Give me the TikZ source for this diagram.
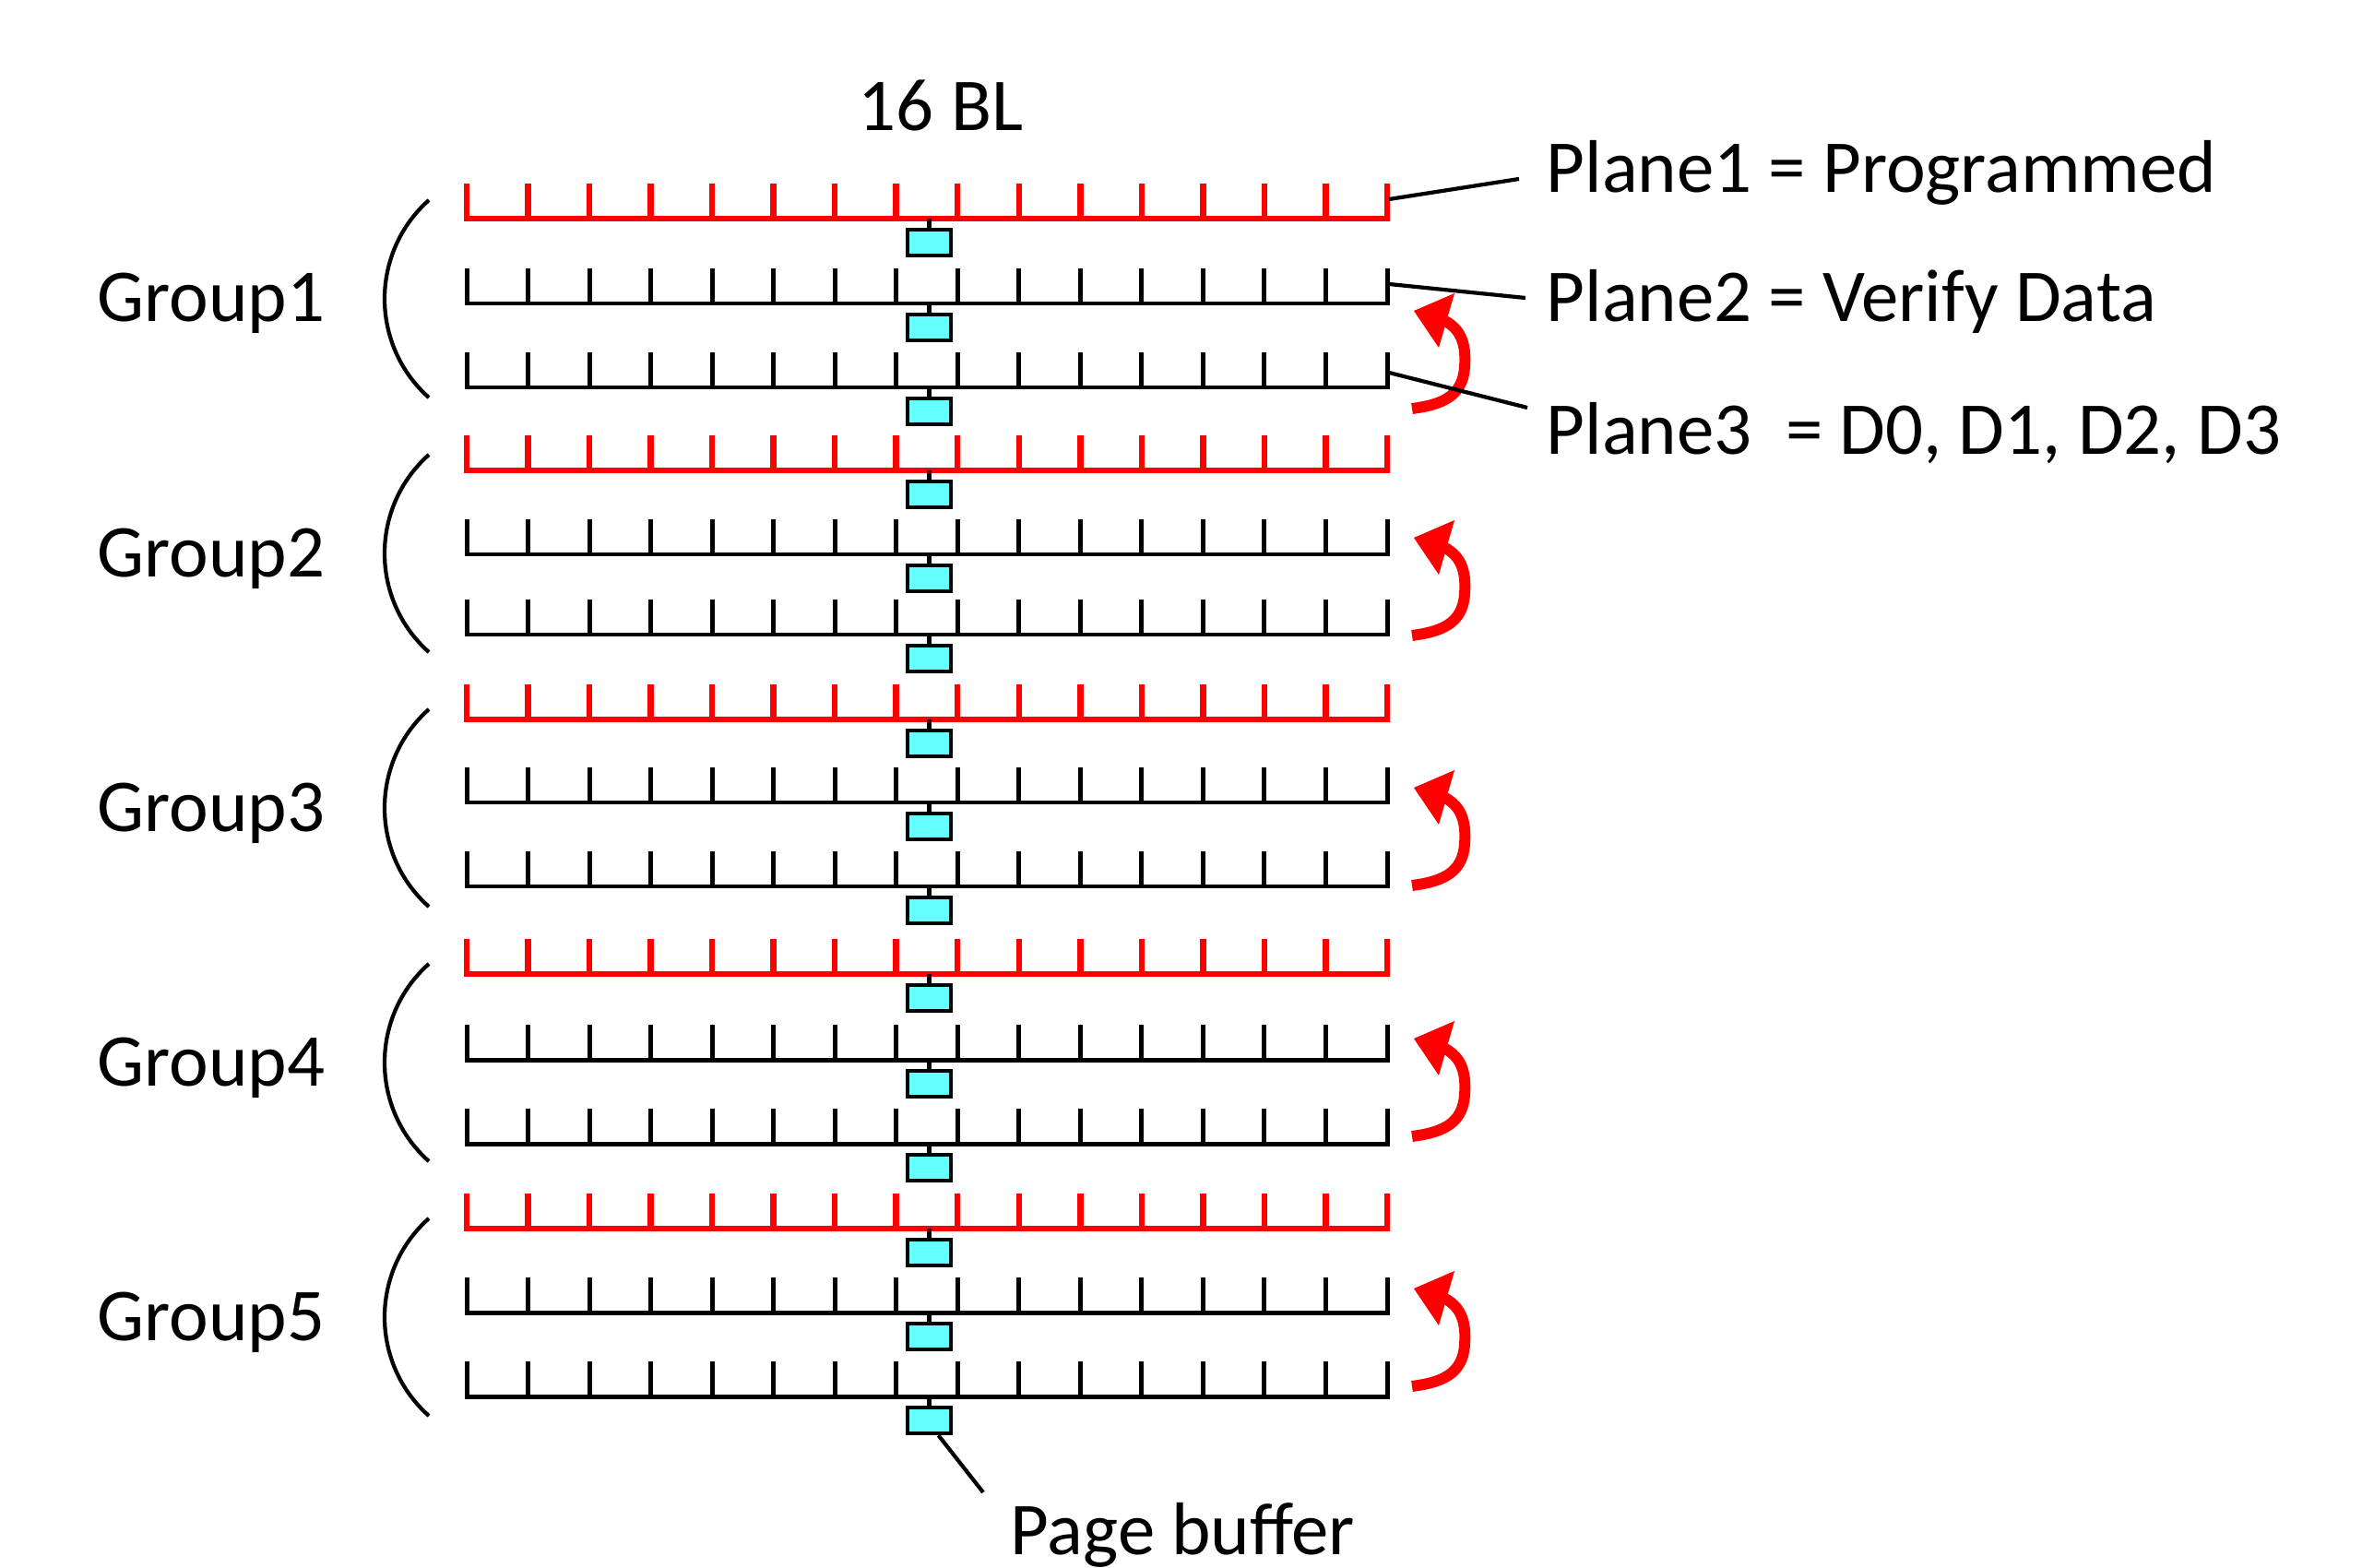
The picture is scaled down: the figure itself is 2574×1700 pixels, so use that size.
\documentclass[tikz,border=0pt]{standalone}
\usepackage{fontspec}
\setmainfont{Carlito}
\definecolor{bufcyan}{RGB}{102,255,255}
\begin{document}
\begin{tikzpicture}[x=0.01cm,y=-0.01cm,
  redplane/.style={draw=red,line width=1.85pt,line join=miter},
  blackplane/.style={draw=black,line width=1.42pt,line join=miter},
  pbuf/.style={draw=black,fill=bufcyan,line width=1.25pt,minimum width=0.47cm,minimum height=0.28cm,inner sep=0pt},
  stem/.style={line width=1.25pt},
  lbl/.style={font=\fontsize{23}{28}\selectfont,inner sep=0pt},
  leader/.style={line width=1.2pt},
  bracket/.style={line width=1.2pt},
  turn/.style={draw=red,line width=3.4pt},
]
\useasboundingbox (0,0) rectangle (2574,1700);

% planes with 16 bit lines and page buffers
\foreach \b/\s [count=\n] in {237/redplane,329/blackplane,420/blackplane,
                   510/redplane,601/blackplane,688/blackplane,
                   780/redplane,870/blackplane,961/blackplane,
                   1056/redplane,1149/blackplane,1240/blackplane,
                   1332/redplane,1423/blackplane,1514/blackplane}{
  \draw[\s] (506,\b-38) -- (506,\b) -- (1504,\b) -- (1504,\b-38);
  \foreach \i in {1,...,14}{
    \draw[\s] (506+66.53*\i,\b) -- (506+66.53*\i,\b-38);
  }
  \coordinate (s\n) at (1007.5,\b);
  \node[pbuf] (b\n) at (1007.5,\b+26) {};
  \draw[stem] (s\n) -- (b\n.north);
}

% group brackets and labels
\foreach \c/\g in {324/1,600/2,876/3,1152/4,1428/5}{
  \draw[bracket] (465,\c-107) .. controls (401,\c-50) and (401,\c+50) .. (465,\c+107);
  \node[lbl,anchor=base] (g\g) at (229,\c+25) {Group\g};
}

% red curved arrows
\foreach \y in {443,689,960,1232,1503}{
  \begin{scope}[shift={(1531,\y)}]
    \draw[turn] (0,0) .. controls (30,-4) and (55,-12) .. (57,-45)
                      .. controls (59,-72) and (52,-86) .. (36,-95);
    \fill[red] (2,-106) -- (46,-125) -- (29,-66) -- cycle;
  \end{scope}
}

% labels
\node[lbl,anchor=base] (bl) at (1020,142) {16 BL};
\node[lbl,anchor=base west] (pl1) at (1676,209) {Plane1 = Programmed};
\node[lbl,anchor=base west] (pl2) at (1676,349) {Plane2 = Verify Data};
\node[lbl,anchor=base west] (pl3) at (1676,493) {Plane3\ \ = D0, D1, D2, D3};
\node[lbl,anchor=base west] (pb) at (1095,1685) {Page buffer};

% leader lines
\coordinate (e1) at (1506,216);
\coordinate (e2) at (1506,308);
\coordinate (e3) at (1506,404);
\coordinate (t1) at (1647,194);
\coordinate (t2) at (1654,323);
\coordinate (t3) at (1656,442);
\coordinate (tp) at (1066,1618);
\draw[leader] (e1) -- (t1);
\draw[leader] (e2) -- (t2);
\draw[leader] (e3) -- (t3);
\draw[leader] ([xshift=0.1cm]b15.south) -- (tp);
\end{tikzpicture}
\end{document}
